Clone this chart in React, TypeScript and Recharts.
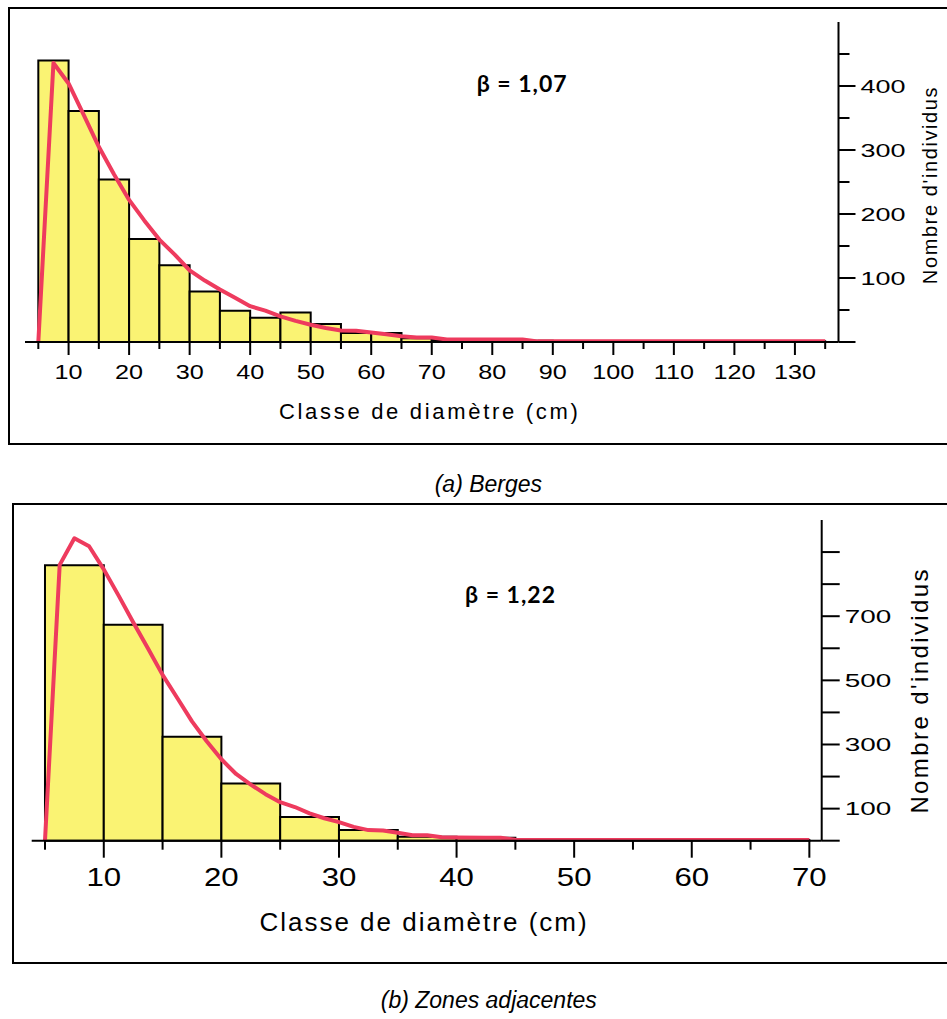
import React from 'react';
import { ComposedChart, Line, XAxis, YAxis, ReferenceArea, Customized } from 'recharts';

const SANS = "'Liberation Sans', Arial, Helvetica, sans-serif";
const BOLD = "Lato, 'Open Sans', sans-serif";
const CAPTION = "'Liberation Sans', Arial, sans-serif";
const BAR_FILL = '#FAF373';
const CURVE = '#EE3B5E';

// ---------- (a) Berges ----------
const binStartA = [5, 10, 15, 20, 25, 30, 35, 40, 45, 50, 55, 60, 65, 70, 75, 80, 85, 90, 95, 100, 105, 110, 115, 120, 125, 130];
const binCountA = [440, 361, 254, 161, 120, 79, 49, 38, 46, 28, 14, 14, 6, 3, 3, 3, 2, 1, 1, 1, 1, 1, 1, 1, 1, 1];
const curveXA = [5, 7.5, 10, 12.5, 15, 17.5, 20, 22.5, 25, 27.5, 30, 32.5, 35, 37.5, 40, 42.5, 45, 47.5, 50, 52.5, 55, 57.5, 60, 62.5, 65, 67.5, 70, 72.5, 75, 80, 85, 87.5, 90, 100, 110, 120, 130, 135];
const curveYA = [0, 436, 404, 355, 305, 262, 222, 190, 160, 137, 112, 96, 82, 69, 56, 49, 40, 33, 27, 22, 18, 17.5, 15, 12, 9, 7, 7, 4, 4, 4, 4, 1, 1, 1, 1, 1, 1, 1];
const xTicksA = [5, 10, 15, 20, 25, 30, 35, 40, 45, 50, 55, 60, 65, 70, 75, 80, 85, 90, 95, 100, 105, 110, 115, 120, 125, 130, 135];
const xLabelsA = [10, 20, 30, 40, 50, 60, 70, 80, 90, 100, 110, 120, 130];
const yTicksA = [0, 50, 100, 150, 200, 250, 300, 350, 400, 450];
const yLabelsA = [100, 200, 300, 400];
const yMajorA = [0, 100, 200, 300, 400];
const betaA = 'β = 1,07';
const captionA = '(a) Berges';

// ---------- (b) Zones adjacentes ----------
const binStartB = [5, 10, 15, 20, 25, 30, 35, 40, 45, 50, 55, 60, 65];
const binCountB = [859, 673, 324, 178, 74, 33, 12, 9, 3, 2, 2, 2, 2];
const curveXB = [5, 6.25, 7.5, 8.75, 10, 11.25, 12.5, 13.75, 15, 16.25, 17.5, 18.75, 20, 21.25, 22.5, 23.75, 25, 26.25, 27.5, 28.75, 30, 31.25, 32.5, 33.75, 35, 36.25, 37.5, 38.75, 40, 42.5, 43.75, 45, 50, 60, 70];
const curveYB = [0, 860, 943, 918, 846, 765, 681, 600, 517, 445, 372, 310, 254, 208, 175, 145, 120, 105, 85, 70, 58, 43, 33, 32, 25, 17, 17, 11, 10, 9, 9, 3, 2, 2, 2];
const xTicksB = [5, 10, 15, 20, 25, 30, 35, 40, 45, 50, 55, 60, 65, 70];
const xLabelsB = [10, 20, 30, 40, 50, 60, 70];
const yTicksB = [0, 100, 200, 300, 400, 500, 600, 700, 800, 900];
const yLabelsB = [100, 300, 500, 700];
const yMajorB = [0, 100, 200, 300, 400, 500, 600, 700, 800, 900];
const betaB = 'β = 1,22';
const captionB = '(b) Zones adjacentes';

const xTitle = 'Classe de diamètre (cm)';
const yTitle = "Nombre d'individus";

const SText = ({ x, y, sx = 1, size, family = SANS, anchor = 'middle', weight = 'normal', rotate = 0, spacing = 0, italic = false, children }: any) => {
  const tr = `translate(${x},${y})${rotate ? ` rotate(${rotate})` : ''} scale(${sx},1)`;
  return (
    <text
      transform={tr}
      x={0}
      y={0}
      textAnchor={anchor}
      fontSize={size}
      fontFamily={family}
      fontWeight={weight}
      fontStyle={italic ? 'italic' : 'normal'}
      letterSpacing={spacing}
      fill="#000"
    >
      {children}
    </text>
  );
};

const cfgA = {
  top: 0,
  height: 450,
  margin: { top: 22, right: 8.5, bottom: 18, left: 25 },
  xAxisH: 90,
  yAxisW: 100,
  xDomain: [2.8, 137.2],
  yDomain: [0, 500],
  xTicks: xTicksA,
  xLabels: xLabelsA,
  yTicks: yTicksA,
  yLabels: yLabelsA,
  yMajor: yMajorA,
  binStart: binStartA,
  binCount: binCountA,
  binWidth: 5,
  curve: curveXA.map((x, i) => ({ x, y: curveYA[i] })),
  xMinorLen: 7,
  xMajorLen: 13,
  xLabelDy: 37,
  xLabelSize: 21,
  xLabelSx: 1.2,
  yMinorLen: 11,
  yMajorLen: 17,
  yLabelDx: 22,
  yLabelDy: 6.5,
  yLabelSize: 18,
  yLabelSx: 1.5,
  xt: { dx: -2, dy: 77, size: 22, spacing: 2.7 },
  yt: { dx: 98.5, dy: 3, size: 20, spacing: 1.6 },
  beta: { x: 476.7, y: 92.3, size: 23, text: betaA },
};

const cfgB = {
  top: 500,
  height: 460,
  margin: { top: 20, right: 15.3, bottom: 19.3, left: 31.7 },
  xAxisH: 100,
  yAxisW: 110,
  xDomain: [3.87, 71.05],
  yDomain: [0, 1000],
  xTicks: xTicksB,
  xLabels: xLabelsB,
  yTicks: yTicksB,
  yLabels: yLabelsB,
  yMajor: yMajorB,
  binStart: binStartB,
  binCount: binCountB,
  binWidth: 5,
  curve: curveXB.map((x, i) => ({ x, y: curveYB[i] })),
  xMinorLen: 9,
  xMajorLen: 17,
  xLabelDy: 45,
  xLabelSize: 26,
  xLabelSx: 1.2,
  yMinorLen: 18,
  yMajorLen: 18,
  yLabelDx: 23,
  yLabelDy: 6.5,
  yLabelSize: 18,
  yLabelSx: 1.55,
  xt: { dx: -2.7, dy: 90, size: 26, spacing: 2 },
  yt: { dx: 106.6, dy: 10, size: 24, spacing: 2.4 },
  beta: { x: 465, y: 103.3, size: 23, text: betaB },
};

const Hist = ({ c }: any) => {
  const renderXTick = (p: any) => {
    const { x, y, payload } = p;
    const v = payload.value;
    const major = c.xLabels.includes(v);
    return (
      <g>
        <line x1={x} y1={y} x2={x} y2={y + (major ? c.xMajorLen : c.xMinorLen)} stroke="#000" strokeWidth={2} />
        {major && (
          <SText x={x} y={y + c.xLabelDy} size={c.xLabelSize} sx={c.xLabelSx}>
            {v}
          </SText>
        )}
      </g>
    );
  };
  const renderYTick = (p: any) => {
    const { x, y, payload } = p;
    const v = payload.value;
    const major = c.yMajor.includes(v);
    const lab = c.yLabels.includes(v);
    return (
      <g>
        <line x1={x} y1={y} x2={x + (major ? c.yMajorLen : c.yMinorLen)} y2={y} stroke="#000" strokeWidth={2} />
        {lab && (
          <SText x={x + c.yLabelDx} y={y + c.yLabelDy} size={c.yLabelSize} sx={c.yLabelSx} anchor="start">
            {v}
          </SText>
        )}
      </g>
    );
  };
  const xLabel = (p: any) => {
    const vb = p.viewBox;
    return (
      <SText x={vb.x + vb.width / 2 + c.xt.dx} y={vb.y + c.xt.dy} size={c.xt.size} spacing={c.xt.spacing}>
        {xTitle}
      </SText>
    );
  };
  const yLabel = (p: any) => {
    const vb = p.viewBox;
    return (
      <SText x={vb.x + c.yt.dx} y={vb.y + vb.height / 2 + c.yt.dy} size={c.yt.size} spacing={c.yt.spacing} rotate={-90}>
        {yTitle}
      </SText>
    );
  };
  return (
    <div style={{ position: 'absolute', left: 0, top: c.top }}>
      <ComposedChart width={947} height={c.height} data={c.curve} margin={c.margin}>
        <XAxis
          xAxisId="frameTop"
          orientation="top"
          height={0}
          type="number"
          domain={[0, 1]}
          tick={false}
          tickLine={false}
          axisLine={{ stroke: '#000', strokeWidth: 2 }}
        />
        <YAxis
          yAxisId="frameLeft"
          orientation="left"
          width={0}
          type="number"
          domain={[0, 1]}
          tick={false}
          tickLine={false}
          axisLine={{ stroke: '#000', strokeWidth: 2 }}
        />
        {c.binStart.map((s: number, i: number) => (
          <ReferenceArea
            key={s}
            x1={s}
            x2={s + c.binWidth}
            y1={0}
            y2={c.binCount[i]}
            fill={BAR_FILL}
            fillOpacity={1}
            stroke="#000"
            strokeWidth={2}
          />
        ))}
        <Line
          dataKey="y"
          type="linear"
          stroke={CURVE}
          strokeWidth={4}
          strokeLinejoin="round"
          dot={false}
          activeDot={false}
          isAnimationActive={false}
        />
        <XAxis
          dataKey="x"
          type="number"
          domain={c.xDomain}
          allowDataOverflow
          ticks={c.xTicks}
          interval={0}
          height={c.xAxisH}
          tickSize={0}
          tickMargin={0}
          tickLine={false}
          axisLine={{ stroke: '#000', strokeWidth: 2 }}
          tick={renderXTick}
          label={xLabel}
        />
        <YAxis
          orientation="right"
          type="number"
          domain={c.yDomain}
          allowDataOverflow
          ticks={c.yTicks}
          interval={0}
          width={c.yAxisW}
          tickSize={0}
          tickMargin={0}
          tickLine={false}
          axisLine={{ stroke: '#000', strokeWidth: 2 }}
          tick={renderYTick}
          label={yLabel}
        />
        <Customized
          component={() => (
            <SText x={c.beta.x} y={c.beta.y} size={c.beta.size} family={BOLD} weight="bold" anchor="start" spacing={1}>
              {c.beta.text}
            </SText>
          )}
        />
      </ComposedChart>
    </div>
  );
};

export default function App() {
  return (
    <div style={{ position: 'absolute', left: 0, top: 0, width: 947, height: 1019, overflow: 'hidden', background: '#fff' }}>
      <div style={{ position: 'absolute', left: 8, top: 7, width: 1000, height: 438, border: '2px solid #000', boxSizing: 'border-box' }} />
      <div style={{ position: 'absolute', left: 12, top: 503, width: 1000, height: 461, border: '2px solid #000', boxSizing: 'border-box' }} />
      <Hist c={cfgA} />
      <Hist c={cfgB} />
      <svg width={947} height={1019} style={{ position: 'absolute', left: 0, top: 0, pointerEvents: 'none' }}>
        <SText x={488.4} y={491.7} size={23} family={CAPTION} italic>
          {captionA}
        </SText>
        <SText x={488.8} y={1008.3} size={23} family={CAPTION} italic>
          {captionB}
        </SText>
      </svg>
    </div>
  );
}
